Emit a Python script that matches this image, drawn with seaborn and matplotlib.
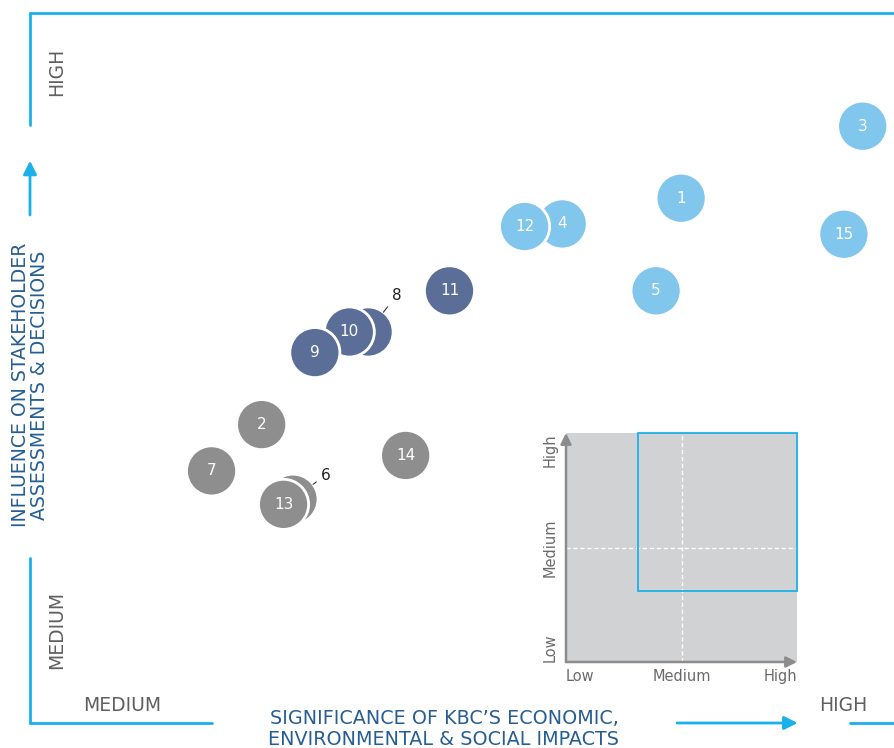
import matplotlib
matplotlib.use("Agg")
import matplotlib.pyplot as plt
import matplotlib.patches as mpatches
import seaborn as sns
import pandas as pd

# materiality matrix: impact significance (x) vs stakeholder influence (y)
# scale: 0 = low, 1 = medium, 2 = high
issues = ['1', '3', '5', '15', '4', '12', '11', '8', '10', '9',
          '2', '7', '14', '6', '13']
impact = [1.66, 1.95, 1.62, 1.92, 1.47, 1.41, 1.29, 1.16, 1.13, 1.075,
          0.99, 0.91, 1.22, 1.04, 1.025]
influence = [1.64, 1.78, 1.46, 1.57, 1.59, 1.585, 1.46, 1.38, 1.38, 1.34,
             1.20, 1.11, 1.14, 1.055, 1.045]
group = ['A', 'A', 'A', 'A', 'A', 'A', 'B', 'B', 'B', 'B',
         'C', 'C', 'C', 'C', 'C']
# mostly covered issues, labelled outside with a leader
hidden = {'8': (17, 21), '6': (20, 12)}

axis_range = (0.62, 2.0)
inset_labels = ['Low', 'Medium', 'High']

palette = {'A': '#80c6ed', 'B': '#5b6e98', 'C': '#8e8e8e'}
frame_blue = '#18b1ea'
title_blue = '#265e93'
grey_txt = '#5f5f5f'

df = pd.DataFrame({'issue': issues, 'impact': impact,
                   'influence': influence, 'group': group})

sns.set_style('white')
plt.rcParams['font.family'] = ['DejaVu Sans']

W, H = 894, 748
fig = plt.figure(figsize=(W / 100, H / 100), dpi=100)

ax = fig.add_axes([30 / W, 25 / H, 864 / W, 710 / H])
sns.scatterplot(data=df, x='impact', y='influence', hue='group',
                palette=palette, s=1300, edgecolor='white', linewidth=2,
                legend=False, ax=ax, zorder=3, clip_on=False)
ax.set_xlim(axis_range)
ax.set_ylim(axis_range)
ax.set_xticks([])
ax.set_yticks([])
ax.set_xlabel('')
ax.set_ylabel('')
for sp in ax.spines.values():
    sp.set_visible(False)

for _, r in df.iterrows():
    if r['issue'] in hidden:
        ax.annotate(r['issue'], xy=(r['impact'], r['influence']),
                    xytext=hidden[r['issue']], textcoords='offset points',
                    fontsize=11, color='#222222', ha='left', va='bottom',
                    arrowprops=dict(arrowstyle='-', color='#333333', lw=0.8,
                                    shrinkA=1, shrinkB=18), zorder=5)
    else:
        ax.text(r['impact'], r['influence'], r['issue'], color='white',
                fontsize=11, ha='center', va='center', zorder=4)

# broken frame with arrows
tr = ax.transAxes
seg = dict(color=frame_blue, lw=2, transform=tr, clip_on=False)
ax.plot([0, 1], [1, 1], **seg)
ax.plot([0, 0], [0.842, 1], **seg)
ax.plot([0, 0], [0, 0.232], **seg)
ax.plot([0, 0.2106], [0, 0], **seg)
ax.plot([0.949, 1], [0, 0], **seg)
arr = dict(arrowstyle='-|>', color=frame_blue, lw=2, mutation_scale=20,
           shrinkA=0, shrinkB=0)
ax.annotate('', xy=(0, 0.792), xytext=(0, 0.7155), xycoords=tr,
            textcoords=tr, arrowprops=arr, annotation_clip=False)
ax.annotate('', xy=(0.8885, 0), xytext=(0.749, 0), xycoords=tr,
            textcoords=tr, arrowprops=arr, annotation_clip=False)

ax.text(0.031, 0.917, 'HIGH', transform=tr, rotation=90, fontsize=13.5,
        color=grey_txt, ha='center', va='center')
ax.text(0.031, 0.131, 'MEDIUM', transform=tr, rotation=90, fontsize=13.5,
        color=grey_txt, ha='center', va='center')
ax.text(0.1065, 0.024, 'MEDIUM', transform=tr, fontsize=13.5,
        color=grey_txt, ha='center', va='center')
ax.text(0.941, 0.024, 'HIGH', transform=tr, fontsize=13.5,
        color=grey_txt, ha='center', va='center')

fig.text(30 / W, 1 - 385 / H, 'INFLUENCE ON STAKEHOLDER\nASSESSMENTS & DECISIONS',
         rotation=90, ha='center', va='center', fontsize=13.6,
         color=title_blue, linespacing=1.05)
fig.text(444 / W, 1 - 729 / H, "SIGNIFICANCE OF KBC\u2019S ECONOMIC,\nENVIRONMENTAL & SOCIAL IMPACTS",
         ha='center', va='center', fontsize=13.8, color=title_blue,
         linespacing=1.1)

# inset key
ax2 = fig.add_axes([566 / W, (H - 662) / H, 231 / W, 229 / H])
ax2.set_facecolor('#d1d2d4')
ax2.set_xlim(0, 2)
ax2.set_ylim(0, 2)
for sp in ax2.spines.values():
    sp.set_visible(False)
ax2.axvline(1, color='white', ls=(0, (3, 2)), lw=1)
ax2.axhline(1, color='white', ls=(0, (3, 2)), lw=1)
ax2.add_patch(mpatches.Rectangle((axis_range[0], axis_range[0]),
                                 2 - axis_range[0], 2 - axis_range[0],
                                 fill=False, edgecolor=frame_blue, lw=1.3,
                                 zorder=3, clip_on=False))
karr = dict(arrowstyle='-|>', color='#8c8c8c', lw=1.8, mutation_scale=16,
            shrinkA=0, shrinkB=0)
ax2.annotate('', xy=(2, 0), xytext=(0, 0), arrowprops=karr,
             annotation_clip=False)
ax2.annotate('', xy=(0, 2), xytext=(0, 0), arrowprops=karr,
             annotation_clip=False)
ax2.set_xticks([0, 1, 2], inset_labels)
ax2.set_yticks([0, 1, 2], inset_labels)
ax2.tick_params(axis='x', length=0, labelsize=10.5, labelcolor='#6a6a6a', pad=5)
ax2.tick_params(axis='y', length=0, labelsize=10.5, labelcolor='#6a6a6a', pad=6)
xl = ax2.get_xticklabels()
xl[0].set_ha('left')
xl[2].set_ha('right')
for t in ax2.get_yticklabels():
    t.set_rotation(90)
    t.set_va('center')
yl = ax2.get_yticklabels()
yl[0].set_va('bottom')
yl[2].set_va('top')

fig.savefig('out.png', dpi=100)
